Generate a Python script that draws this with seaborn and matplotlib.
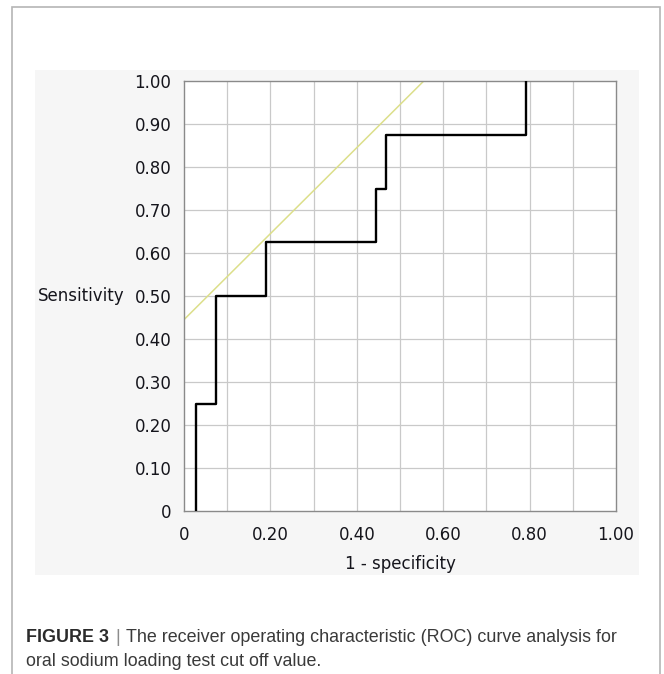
import numpy as np
import pandas as pd
import seaborn as sns
import matplotlib.pyplot as plt
from matplotlib.patches import Rectangle
from matplotlib.ticker import MultipleLocator, FuncFormatter

# ROC operating points (1 - specificity, sensitivity)
fpr = [0.028, 0.074, 0.189, 0.444, 0.468, 0.791, 0.791]
tpr = [0.0, 0.25, 0.50, 0.625, 0.75, 0.875, 1.0]
# tangent (cut off) line
line_x = [0.0, 0.555]
line_y = [0.445, 1.0]

sns.set_style("white")
plt.rcParams['font.family'] = ['DejaVu Sans']

W, H = 664, 674
fig = plt.figure(figsize=(W / 100, H / 100), dpi=100)

# outer border and light grey chart panel
fig.patches.append(Rectangle((12 / W, -0.01), 648 / W, 1.01 - 7 / H, transform=fig.transFigure,
                             facecolor="white", edgecolor="#b5b5b5", lw=1.2, zorder=-2))
fig.patches.append(Rectangle((35 / W, 1 - 575 / H), 604 / W, 505 / H, transform=fig.transFigure,
                             facecolor="#f6f6f6", edgecolor="none", zorder=-1))

ax = fig.add_axes([184 / W, 1 - 511 / H, 432 / W, 430 / H])
ax.set_facecolor("white")

roc = pd.DataFrame({"fpr": fpr, "tpr": tpr})
sns.lineplot(data=roc, x="fpr", y="tpr", ax=ax, color="black", lw=1.7,
             drawstyle="steps-pre", sort=False, estimator=None, zorder=3)
sns.lineplot(x=line_x, y=line_y, ax=ax, color="#dcdf8a", lw=1.1, sort=False,
             estimator=None, zorder=2)

ax.set_xlim(0, 1)
ax.set_ylim(0, 1)

ax.xaxis.set_major_locator(MultipleLocator(0.2))
ax.xaxis.set_minor_locator(MultipleLocator(0.05))
ax.yaxis.set_major_locator(MultipleLocator(0.1))
ax.yaxis.set_minor_locator(MultipleLocator(0.05))

fmt = FuncFormatter(lambda v, p: "0" if abs(v) < 1e-9 else f"{v:.2f}")
ax.xaxis.set_major_formatter(fmt)
ax.yaxis.set_major_formatter(fmt)

# grid every 0.1
for v in np.arange(0.1, 1.0, 0.1):
    ax.axvline(v, color="#c9c9c9", lw=0.9, zorder=1)
    ax.axhline(v, color="#c9c9c9", lw=0.9, zorder=1)

for s in ax.spines.values():
    s.set_color("#8a8a8a")
    s.set_linewidth(1.0)

ax.tick_params(axis="both", which="both", direction="out", color="#8a8a8a",
               labelsize=12, labelcolor="#15151c")
ax.tick_params(axis="y", which="major", length=7, width=0.9, pad=2)
ax.tick_params(axis="y", which="minor", length=4, width=0.9)
ax.tick_params(axis="x", which="major", length=4, width=0.9, pad=7)
ax.tick_params(axis="x", which="minor", length=4, width=0.9)

ax.set_xlabel("1 - specificity", fontsize=12, color="#15151c", labelpad=8)
ax.set_ylabel("Sensitivity", fontsize=12, color="#15151c", rotation=0,
              ha="right", va="center")
ax.yaxis.set_label_coords(-0.138, 0.5)

# caption
cap_font = ['Liberation Sans', 'DejaVu Sans']
cap_size = 12.9
y1 = 1 - 642 / H
y2 = 1 - 666 / H
r = fig.canvas.get_renderer()
t1 = fig.text(26 / W, y1, "FIGURE 3", family=cap_font, size=cap_size,
              weight="bold", color="#2b2b2b")
bb = t1.get_window_extent(renderer=r)
t2 = fig.text(bb.x1 / W + 6 / W, y1, "|", family=cap_font, size=cap_size,
              color="#8c8c8c")
bb2 = t2.get_window_extent(renderer=r)
fig.text(bb2.x1 / W + 6 / W, y1,
         "The receiver operating characteristic (ROC) curve analysis for",
         family=cap_font, size=cap_size, color="#3a3a3a")
fig.text(26 / W, y2, "oral sodium loading test cut off value.",
         family=cap_font, size=cap_size, color="#3a3a3a")

fig.savefig("out.png", dpi=100)
